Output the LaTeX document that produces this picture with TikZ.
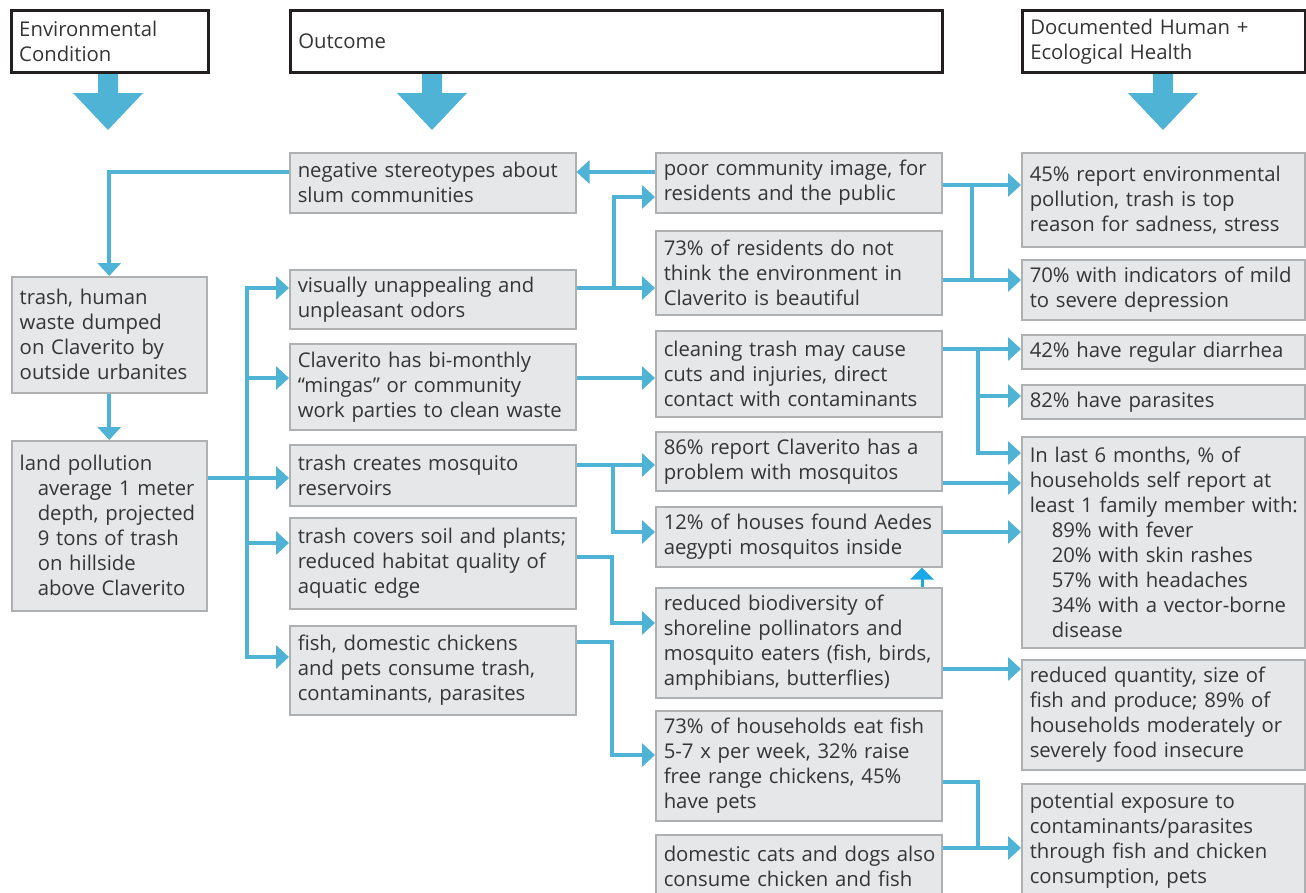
\documentclass[tikz,border=0pt]{standalone}
\usepackage{fontspec}
\setmainfont{Open Sans}
\usetikzlibrary{arrows.meta}
\definecolor{flow}{HTML}{4EB3D5}
\definecolor{flowbright}{HTML}{1AA9E6}
\definecolor{boxfill}{HTML}{E6E7E8}
\definecolor{boxline}{HTML}{AEB0B2}
\definecolor{ink}{HTML}{353535}
\definecolor{headline}{HTML}{231F20}

\begin{document}
\begin{tikzpicture}[x=1pt,y=-1pt,
  every node/.style={font=\fontsize{20.3}{25}\selectfont, text=ink},
  box/.style={draw=boxline, line width=1.5pt, fill=boxfill, anchor=north west,
    align=left, inner xsep=8pt, inner ysep=0pt},
  head/.style={draw=headline, line width=2.5pt, fill=white, anchor=north west,
    align=left, inner xsep=8pt, inner ysep=0pt},
  link/.style={draw=flow, line width=4pt},
  arr/.style={link, -{Triangle[length=13pt,width=23pt]}},
  uparr/.style={draw=flowbright, line width=3pt, -{Triangle[length=12pt,width=23pt]}},
]
\useasboundingbox (0,0) rectangle (1306,892);
\clip (0,0) rectangle (1306,892);

% column headings
\node[head, minimum width=197pt, minimum height=62pt, text width=181pt] (H1) at (10,9)
  {Environmental\\Condition};
\node[head, minimum width=652pt, minimum height=62pt, text width=636pt] (H2) at (289,9)
  {Outcome};
\node[head, minimum width=283pt, minimum height=62pt, text width=267pt] (H3) at (1021,9)
  {Documented Human +\\Ecological Health};

% big downward arrows under the headings
\foreach \cx in {108,432,1163}
  \fill[flow] (\cx-10,74) -- (\cx+10,74) -- (\cx+10,93) -- (\cx+35,93)
    -- (\cx,130) -- (\cx-35,93) -- (\cx-10,93) -- cycle;

% environmental condition
\node[box, minimum width=195pt, minimum height=116pt, text width=179pt] (A1) at (11,276)
  {trash, human\\waste dumped\\on Claverito by\\outside urbanites};
\node[box, minimum width=195pt, minimum height=170pt, text width=179pt] (A2) at (11,440)
  {land pollution\\\hspace*{18pt}average 1 meter\\\hspace*{18pt}depth, projected\\\hspace*{18pt}9 tons of trash\\\hspace*{18pt}on hillside\\\hspace*{18pt}above Claverito};

% outcomes, first level
\node[box, minimum width=286pt, minimum height=60pt, text width=270pt] (B0) at (289,152)
  {negative stereotypes about\\slum communities};
\node[box, minimum width=286pt, minimum height=59pt, text width=270pt] (B1) at (289,269)
  {visually unappealing and\\unpleasant odors};
\node[box, minimum width=286pt, minimum height=86pt, text width=270pt] (B2) at (289,343)
  {Claverito has bi-monthly\\“mingas” or community\\\mbox{work parties to clean waste}};
\node[box, minimum width=286pt, minimum height=61pt, text width=270pt] (B3) at (289,444)
  {trash creates mosquito\\reservoirs};
\node[box, minimum width=286pt, minimum height=91pt, text width=270pt] (B4) at (289,517)
  {\mbox{trash covers soil and plants;}\\reduced habitat quality of\\aquatic edge};
\node[box, minimum width=286pt, minimum height=89pt, text width=270pt] (B5) at (289,625)
  {fish, domestic chickens\\and pets consume trash,\\contaminants, parasites};

% outcomes, second level
\node[box, minimum width=286pt, minimum height=60pt, text width=270pt] (C0) at (655,152)
  {poor community image, for\\residents and the public};
\node[box, minimum width=286pt, minimum height=84pt, text width=270pt] (C1) at (655,230)
  {73\% of residents do not\\think the environment in\\Claverito is beautiful};
\node[box, minimum width=286pt, minimum height=86pt, text width=270pt] (C2) at (655,330)
  {cleaning trash may cause\\cuts and injuries, direct\\\mbox{contact with contaminants}};
\node[box, minimum width=286pt, minimum height=59pt, text width=270pt] (C3) at (655,431)
  {86\% report Claverito has a\\problem with mosquitos};
\node[box, minimum width=286pt, minimum height=60pt, text width=270pt] (C4) at (655,506)
  {\mbox{12\% of houses found Aedes}\\aegypti mosquitos inside};
\node[box, minimum width=286pt, minimum height=110pt, text width=270pt] (C5) at (655,587)
  {reduced biodiversity of\\shoreline pollinators and\\\mbox{mosquito eaters (fish, birds,}\\amphibians, butterflies)};
\node[box, minimum width=286pt, minimum height=110pt, text width=270pt] (C6) at (655,710)
  {\mbox{73\% of households eat fish}\\5-7 x per week, 32\% raise\\free range chickens, 45\%\\have pets};
\node[box, minimum width=286pt, minimum height=63pt, text width=270pt] (C7) at (655,834)
  {\mbox{domestic cats and dogs also}\\consume chicken and fish};

% documented health effects
\node[box, minimum width=283pt, minimum height=94pt, text width=267pt] (D0) at (1021,152)
  {45\% report environmental\\pollution, trash is top\\reason for sadness, stress};
\node[box, minimum width=283pt, minimum height=60pt, text width=267pt] (D1) at (1021,259)
  {\mbox{70\% with indicators of mild}\\to severe depression};
\node[box, minimum width=283pt, minimum height=34pt, text width=267pt] (D2) at (1021,334)
  {42\% have regular diarrhea};
\node[box, minimum width=283pt, minimum height=34pt, text width=267pt] (D3) at (1021,384)
  {82\% have parasites};
\node[box, minimum width=283pt, minimum height=211pt, text width=267pt] (D4) at (1021,436)
  {In last 6 months, \% of\\households self report at\\\mbox{least 1 family member with:}\\\hspace*{22pt}89\% with fever\\\hspace*{22pt}20\% with skin rashes\\\hspace*{22pt}57\% with headaches\\\hspace*{22pt}\mbox{34\% with a vector-borne}\\\hspace*{22pt}disease};
\node[box, minimum width=283pt, minimum height=110pt, text width=267pt] (D5) at (1021,659)
  {reduced quantity, size of\\fish and produce; 89\% of\\\mbox{households moderately or}\\severely food insecure};
\node[box, minimum width=283pt, minimum height=114pt, text width=267pt] (D6) at (1021,783)
  {potential exposure to\\contaminants/parasites\\through fish and chicken\\consumption, pets};

% routing points
\coordinate (sT) at (0,172);
\coordinate (busTop) at (247,288);
\coordinate (busB2) at (247,378);
\coordinate (busMid) at (247,478);
\coordinate (busB4) at (247,543);
\coordinate (busBot) at (247,657);
\coordinate (vUp) at (614,288);
\coordinate (vTop) at (614,197);
\coordinate (wA) at (613,465);
\coordinate (wB) at (613,532);
\coordinate (xA) at (612,557);
\coordinate (xB) at (612,623);
\coordinate (yA) at (612,642);
\coordinate (yB) at (612,755);
\coordinate (uX) at (922,0);
\coordinate (mA) at (972,185);
\coordinate (mB) at (972,280);
\coordinate (nA) at (978,349);
\coordinate (nB) at (978,396);
\coordinate (nC) at (978,453);
\coordinate (q3) at (0,483);
\coordinate (q4) at (0,532);
\coordinate (q5) at (0,669);
\coordinate (pA) at (978,782);
\coordinate (pB) at (978,848);

% left column
\draw[arr] (A1.south) -- (A2.north);
\draw[arr] (B0.west |- sT) -| (A1.north);
\draw[arr] (C0.west |- sT) -- (B0.east |- sT);

% bus from land pollution to the first-level outcomes
\draw[arr] (A2.east |- busMid) -- (B3.west |- busMid);
\draw[arr] (busMid) -- (busTop) -- (B1.west |- busTop);
\draw[arr] (busMid) -- (busBot) -- (B5.west |- busBot);
\draw[arr] (busB2) -- (B2.west |- busB2);
\draw[arr] (busB4) -- (B4.west |- busB4);

% first level to second level
\draw[arr] (B1.east |- vUp) -- (C1.west |- vUp);
\draw[arr] (vUp) -- (vTop) -- (C0.west |- vTop);
\draw[arr] (B2.east |- busB2) -- (C2.west |- busB2);
\draw[arr] (B3.east |- wA) -- (C3.west |- wA);
\draw[arr] (wA) -- (wB) -- (C4.west |- wB);
\draw[arr] (B4.east |- xA) -- (xA) -- (xB) -- (C5.west |- xB);
\draw[arr] (B5.east |- yA) -- (yA) -- (yB) -- (C6.west |- yB);
\draw[uparr] (C5.north -| uX) -- (C4.south -| uX);

% second level to documented effects
\draw[arr] (C0.east |- mA) -- (D0.west |- mA);
\draw[arr] (C1.east |- mB) -- (D1.west |- mB);
\draw[link] (mA) -- (mB);
\draw[arr] (C2.east |- nA) -- (D2.west |- nA);
\draw[arr] (nA) -- (nC) -- (D4.west |- nC);
\draw[arr] (nB) -- (D3.west |- nB);
\draw[arr] (C3.east |- q3) -- (D4.west |- q3);
\draw[arr] (C4.east |- q4) -- (D4.west |- q4);
\draw[arr] (C5.east |- q5) -- (D5.west |- q5);
\draw[arr] (C6.east |- pA) -- (pA) -- (pB) -- (D6.west |- pB);
\draw[link] (C7.east |- pB) -- (pB);
\end{tikzpicture}
\end{document}
